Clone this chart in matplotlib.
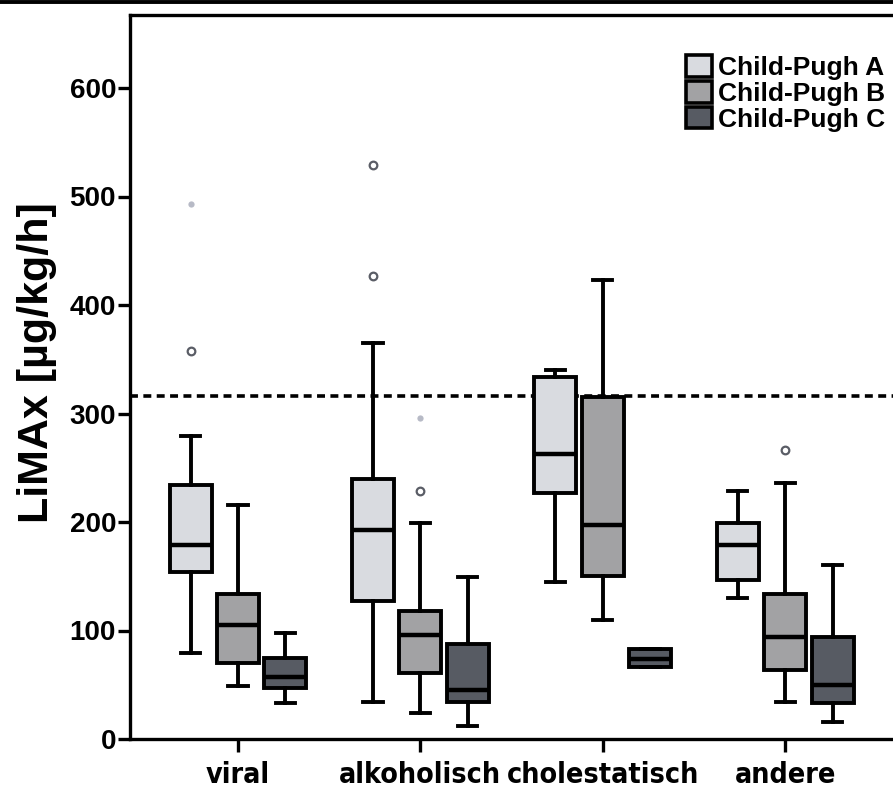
import matplotlib
matplotlib.use("Agg")
import matplotlib.pyplot as plt
from matplotlib.lines import Line2D
from matplotlib.patches import Patch

categories = ["viral", "alkoholisch", "cholestatisch", "andere"]
levels = ["Child-Pugh A", "Child-Pugh B", "Child-Pugh C"]

# Child-Pugh A
a_lo  = [79, 34, 145, 130]
a_q1  = [154, 127, 227, 147]
a_med = [179, 193, 263, 179]
a_q3  = [234, 240, 334, 199]
a_hi  = [279, 365, 340, 229]
# Child-Pugh B
b_lo  = [49, 24, 110, 34]
b_q1  = [70, 61, 150, 64]
b_med = [105, 96, 197, 94]
b_q3  = [134, 118, 315, 134]
b_hi  = [216, 199, 423, 236]
# Child-Pugh C
c_lo  = [33, 12, 66, 16]
c_q1  = [47, 34, 66, 33]
c_med = [57, 45, 74, 50]
c_q3  = [75, 88, 83, 94]
c_hi  = [98, 149, 83, 160]

# outliers: per level, per category
a_out = [[358], [529, 427], [], []]
b_out = [[], [229], [], [266]]
c_out = [[], [], [], []]
# faint outlier dots
a_faint = [[493], [], [], []]
b_faint = [[], [296], [], []]

cutoff = 316
yticks = [0, 100, 200, 300, 400, 500, 600]

colors = ["#d9dbe0", "#a2a2a4", "#575b63"]

W, H = 893, 791
fig = plt.figure(figsize=(W / 100, H / 100), dpi=100)
fig.patch.set_facecolor("white")

left_px, right_px = 130, 911
top_px, bot_px = 14.5, 739
ax = fig.add_axes([left_px / W, (H - bot_px) / H,
                   (right_px - left_px) / W, (bot_px - top_px) / H])

offsets = [-0.26, 0.0, 0.26]
groups = [
    (a_lo, a_q1, a_med, a_q3, a_hi, a_out),
    (b_lo, b_q1, b_med, b_q3, b_hi, b_out),
    (c_lo, c_q1, c_med, c_q3, c_hi, c_out),
]

lw = 2.8
for li, (lo, q1, med, q3, hi, out) in enumerate(groups):
    stats = []
    for ci in range(len(categories)):
        stats.append(dict(whislo=lo[ci], q1=q1[ci], med=med[ci], q3=q3[ci],
                          whishi=hi[ci], fliers=out[ci]))
    pos = [ci + offsets[li] for ci in range(len(categories))]
    ax.bxp(stats, positions=pos, widths=0.23, capwidths=0.105,
           patch_artist=True, manage_ticks=False,
           boxprops=dict(facecolor=colors[li], edgecolor="black", linewidth=lw),
           whiskerprops=dict(color="black", linewidth=lw),
           capprops=dict(color="black", linewidth=lw),
           medianprops=dict(color="black", linewidth=lw + 0.4),
           flierprops=dict(marker="o", markersize=5.5, markerfacecolor="white",
                           markeredgecolor="#5a5d66", markeredgewidth=1.6),
           zorder=3)

for li, faint in [(0, a_faint), (1, b_faint)]:
    for ci, vals in enumerate(faint):
        for v in vals:
            ax.plot([ci + offsets[li]], [v], "o", markersize=4.5,
                    color="#b7bac6", markeredgewidth=0, zorder=3)

ax.axhline(cutoff, color="black", linewidth=2.6, dashes=(2.2, 1.5), zorder=2)

ax.set_xlim(-0.592, 3.69)
ax.set_ylim(0, (bot_px - top_px) / 1.085)

ax.spines["right"].set_visible(False)
for s in ["left", "bottom", "top"]:
    ax.spines[s].set_linewidth(2.4)

ax.set_yticks(yticks)
ax.set_yticklabels([str(v) for v in yticks], fontsize=20, fontweight="bold",
                   family=["Liberation Sans", "DejaVu Sans"])
ax.set_xticks(range(len(categories)))
ax.set_xticklabels(categories, fontsize=20.5, fontweight="bold",
                   fontstretch="condensed",
                   family=["DejaVu Sans"])
ax.tick_params(axis="y", length=9, width=2.4, pad=1)
ax.tick_params(axis="x", length=9, width=2.4, pad=7)

ax.set_ylabel("LiMAx [µg/kg/h]", fontsize=31, fontweight="bold",
              family=["Liberation Sans", "DejaVu Sans"])
ax.yaxis.set_label_coords(-0.093, 0.52)

handles = [Patch(facecolor=colors[i], edgecolor="black", linewidth=2.6)
           for i in range(3)]
fig.legend(handles, levels, loc="upper left",
           bbox_to_anchor=(686 / W, 1 - 55 / H), frameon=False,
           prop=dict(family=["Liberation Sans", "DejaVu Sans"], weight="bold", size=19),
           handlelength=1.0, handleheight=0.88, handletextpad=0.22,
           labelspacing=0.04, borderpad=0, borderaxespad=0)

fig.add_artist(Line2D([0, 1], [1 - 1.8 / H, 1 - 1.8 / H], color="black",
                      linewidth=2.8, transform=fig.transFigure))

fig.savefig("out.png", dpi=100, facecolor="white")
